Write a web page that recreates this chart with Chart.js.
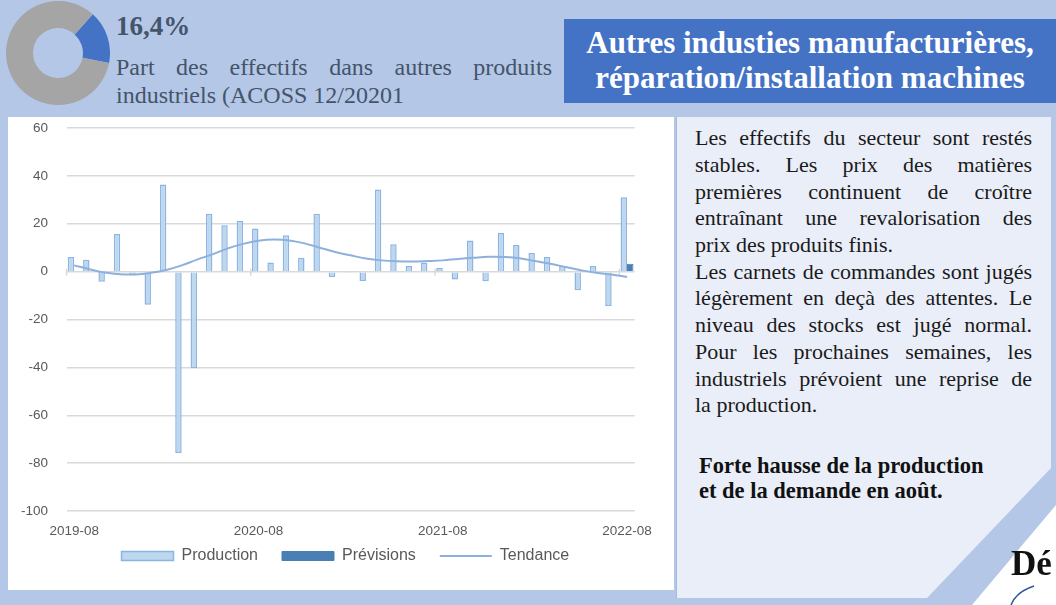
<!DOCTYPE html>
<html lang="fr">
<head>
<meta charset="utf-8">
<title>Autres industies manufacturières</title>
<script src="https://cdn.jsdelivr.net/npm/chart.js@4.4.1/dist/chart.umd.min.js"></script>
<style>
    html, body { margin: 0; padding: 0; }
    body {
        width: 1056px; height: 605px; position: relative; overflow: hidden;
        background: #b4c7e7; font-family: 'Liberation Serif', serif;
    }
    #donutBox { position: absolute; left: 6px; top: 1px; width: 104px; height: 104px; }
    #share {
        position: absolute; left: 116px; top: 13px;
        font-size: 27px; line-height: 27px; font-weight: bold; color: #44546a;
    }
    #shareText {
        position: absolute; left: 116px; top: 54px; width: 436px;
        font-size: 24px; line-height: 27.6px; color: #44546a;
    }
    .just { text-align: justify; text-align-last: justify; }
    #title {
        position: absolute; left: 564px; top: 19px; width: 492px; height: 84px;
        box-sizing: border-box; padding-top: 6px;
        background: #4472c4; color: #fff; text-align: center;
        font-size: 31px; line-height: 35px; font-weight: bold;
    }
    #chartPanel { position: absolute; left: 8px; top: 117px; width: 666px; height: 473px; background: #fff; }
    #notes {
        position: absolute; left: 676px; top: 117px; width: 375px; height: 481px;
        background: #eaeef8; box-shadow: inset 1px 0 0 #a6b8de;
        clip-path: polygon(0 0, 375px 0, 375px 351px, 251px 481px, 0 481px);
    }
    #para {
        position: absolute; left: 19px; top: 8.2px; width: 337px;
        font-size: 22px; line-height: 26.7px; color: #1a1a1a;
    }
    #headline {
        position: absolute; left: 23px; top: 336.2px;
        font-size: 22.5px; line-height: 25px; font-weight: bold; color: #111;
    }
    #corner {
        position: absolute; left: 0; top: 0; width: 1056px; height: 605px; pointer-events: none;
    }
    #de {
        position: absolute; left: 1011px; top: 545.7px;
        font-size: 35px; line-height: 35px; font-weight: bold; color: #111;
    }
</style>
</head>
<body>

<div id="donutBox"><canvas id="donut" width="104" height="104"></canvas></div>
<div id="share">16,4%</div>
<div id="shareText">
    <div class="just">Part des effectifs dans autres produits</div>
    <div>industriels (ACOSS 12/20201</div>
</div>

<div id="title">Autres industies manufacturières,<br>réparation/installation machines</div>

<div id="chartPanel"><canvas id="chart" width="666" height="473"></canvas></div>

<div id="notes">
    <div id="para">
        <div class="just">Les effectifs du secteur sont restés</div>
        <div class="just">stables. Les prix des matières</div>
        <div class="just">premières continuent de croître</div>
        <div class="just">entraînant une revalorisation des</div>
        <div>prix des produits finis.</div>
        <div class="just">Les carnets de commandes sont jugés</div>
        <div class="just">légèrement en deçà des attentes. Le</div>
        <div class="just">niveau des stocks est jugé normal.</div>
        <div class="just">Pour les prochaines semaines, les</div>
        <div class="just">industriels prévoient une reprise de</div>
        <div>la production.</div>
    </div>
    <div id="headline">Forte hausse de la production<br>et de la demande en août.</div>
</div>

<svg id="corner" width="1056" height="605">
    <polygon points="1056,505 972,605 1056,605" fill="#ffffff"/>
    <path d="M1011 605 Q1016 592 1034 586" stroke="#2f5597" stroke-width="1.5" fill="none"/>
</svg>
<div id="de">Dé</div>

<script>
// Data
const months = [
    '2019-08', '2019-09', '2019-10', '2019-11', '2019-12',
    '2020-01', '2020-02', '2020-03', '2020-04', '2020-05', '2020-06', '2020-07',
    '2020-08', '2020-09', '2020-10', '2020-11', '2020-12',
    '2021-01', '2021-02', '2021-03', '2021-04', '2021-05', '2021-06', '2021-07',
    '2021-08', '2021-09', '2021-10', '2021-11', '2021-12',
    '2022-01', '2022-02', '2022-03', '2022-04', '2022-05', '2022-06', '2022-07',
    '2022-08'
];
const production = [
    6.1, 5.0, -4.2, 15.7, -1.5, -13.8, 36.4, -75.8, -40.4, 24.2, 19.4, 21.2,
    18.0, 3.8, 15.2, 5.8, 24.2, -2.2, -0.5, -3.9, 34.3, 11.4, 2.4, 3.8,
    1.5, -3.3, 13.0, -4.0, 16.1, 11.1, 7.8, 6.1, 2.4, -7.8, 2.4, -14.4,
    31.1
];
const previsions = [
    null, null, null, null, null, null, null, null, null, null, null, null,
    null, null, null, null, null, null, null, null, null, null, null, null,
    null, null, null, null, null, null, null, null, null, null, null, null,
    3.3
];
const tendance = [
    2.6, 1.0, -0.4, -1.1, -1.2, -0.5, 0.7, 2.6, 5.0, 7.2, 9.7, 11.6,
    12.9, 13.4, 13.0, 11.8, 10.0, 8.2, 6.8, 5.5, 4.7, 4.3, 4.2, 4.4,
    4.7, 5.3, 5.8, 6.2, 6.1, 5.6, 4.4, 3.3, 1.9, 0.6, -0.5, -1.2,
    -2.2
];
const xTickLabels = ['2019-08', '2020-08', '2021-08', '2022-08'];
const yTicks = [60, 40, 20, 0, -20, -40, -60, -80, -100];

const shareLabels = ['Autres produits industriels', 'Reste'];
const shareValues = [16.4, 83.6];

Chart.defaults.font.family = "'Liberation Sans', Arial, sans-serif";
Chart.defaults.color = '#595959';

// Small tick marks on the zero line, every 12 months
const zeroTicks = {
    id: 'zeroTicks',
    beforeDatasetsDraw(chart) {
        const x = chart.scales.x;
        const y0 = chart.scales.y.getPixelForValue(0);
        const half = (x.getPixelForValue(1) - x.getPixelForValue(0)) / 2;
        const ctx = chart.ctx;
        ctx.save();
        ctx.strokeStyle = '#d9d9d9';
        ctx.lineWidth = 1.5;
        months.forEach((m, i) => {
            if (!xTickLabels.includes(m)) return;
            const px = x.getPixelForValue(i) - half;
            ctx.beginPath();
            ctx.moveTo(px, y0 - 3);
            ctx.lineTo(px, y0 + 4);
            ctx.stroke();
        });
        ctx.restore();
    }
};

// Nudge the legend up towards the axis labels and a little to the right
const legendPlace = {
    id: 'legendPlace',
    afterLayout(chart) {
        const lg = chart.legend;
        if (!lg) return;
        lg.top -= 16;
        lg.bottom -= 16;
        lg.left += 24;
        lg.right += 24;
    }
};

new Chart(document.getElementById('chart').getContext('2d'), {
    type: 'bar',
    data: {
        labels: months,
        datasets: [
            {
                label: 'Production',
                data: production,
                backgroundColor: '#bdd7ee',
                borderColor: '#8db4e2',
                borderWidth: 1.5,
                categoryPercentage: 0.84,
                barPercentage: 1,
                order: 1
            },
            {
                label: 'Prévisions',
                data: previsions,
                backgroundColor: '#4a7fb5',
                borderColor: '#4a7fb5',
                borderWidth: 1,
                categoryPercentage: 0.84,
                barPercentage: 1,
                order: 1
            },
            {
                type: 'line',
                label: 'Tendance',
                data: tendance,
                borderColor: '#8eb0dc',
                backgroundColor: '#8eb0dc',
                borderWidth: 2,
                pointRadius: 0,
                tension: 0.4,
                order: 0
            }
        ]
    },
    options: {
        responsive: false,
        animation: false,
        layout: { padding: { top: 11, right: 39.3, bottom: 0, left: 0 } },
        scales: {
            x: {
                grid: { display: false, drawTicks: false },
                border: { display: false },
                ticks: {
                    autoSkip: false, maxRotation: 0, minRotation: 0, padding: 12,
                    font: { size: 13.5 }, color: '#595959',
                    callback: function (value, index) {
                        const m = months[index];
                        return xTickLabels.includes(m) ? m : '';
                    }
                },
                afterFit: function (scale) { scale.height = 29; }
            },
            y: {
                min: Math.min(...yTicks),
                max: Math.max(...yTicks),
                ticks: { stepSize: 20, padding: 0, font: { size: 13.5 }, color: '#595959' },
                grid: {
                    color: '#d9d9d9', lineWidth: 1.5,
                    drawTicks: true, tickLength: 18.5, tickColor: 'rgba(0,0,0,0)'
                },
                border: { display: false },
                afterFit: function (scale) { scale.width = 58.5; }
            }
        },
        plugins: {
            tooltip: { enabled: false },
            legend: {
                position: 'bottom',
                labels: {
                    usePointStyle: true,
                    pointStyleWidth: 52,
                    boxHeight: 9,
                    padding: 24,
                    color: '#595959',
                    font: { size: 16 },
                    sort: (a, b) => a.datasetIndex - b.datasetIndex,
                    generateLabels: function (chart) {
                        const items = Chart.defaults.plugins.legend.labels.generateLabels(chart);
                        items.forEach(item => {
                            item.pointStyle = item.datasetIndex === 2 ? 'line' : 'rect';
                        });
                        return items;
                    }
                }
            }
        }
    },
    plugins: [zeroTicks, legendPlace]
});

// Share donut
new Chart(document.getElementById('donut').getContext('2d'), {
    type: 'doughnut',
    data: {
        labels: shareLabels,
        datasets: [{
            data: shareValues,
            backgroundColor: ['#4472c4', '#a5a5a5'],
            borderWidth: 0
        }]
    },
    options: {
        responsive: false,
        animation: false,
        rotation: 42,
        cutout: '48%',
        plugins: { legend: { display: false }, tooltip: { enabled: false } }
    }
});
</script>
</body>
</html>
